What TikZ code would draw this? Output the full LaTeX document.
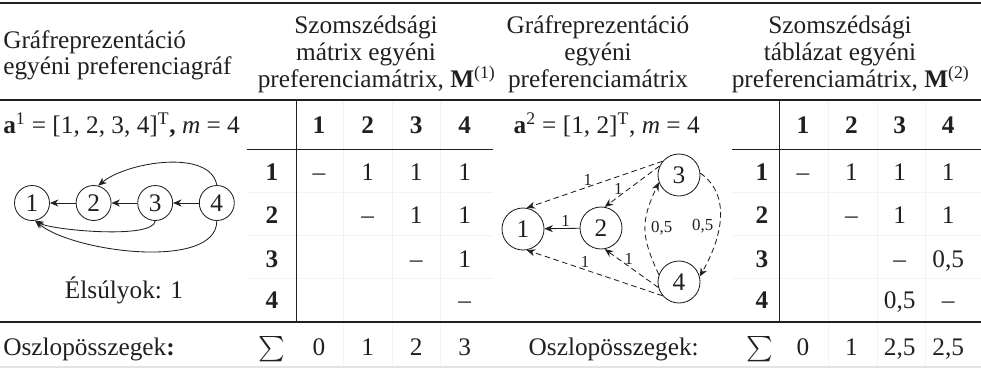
\documentclass[tikz,border=0pt]{standalone}
\usepackage{amsmath}
\usepackage{amssymb}
\usepackage{fontspec}
\usepackage{tikz}
\usepackage{xcolor}
\usetikzlibrary{arrows.meta, positioning}
\setmainfont{Liberation Serif}
\definecolor{Ink_Black}{HTML}{231F20}
\definecolor{Cell_Gray}{HTML}{F3F3F3}
\definecolor{Foot_Gray}{HTML}{E4E4E4}
\newcommand{\mainsize}{\fontsize{18}{19}\selectfont}
\newcommand{\wtsize}{\fontsize{12}{14}\selectfont}

\begin{document}
\begin{tikzpicture}[
    font=\mainsize, Ink_Black,
    every node/.style={inner sep=1pt},
    hd/.style={font=\mainsize\bfseries, anchor=base},
    cell/.style={anchor=base},
    vertex/.style={circle, draw, line width=0.6pt, minimum size=0.875cm, inner sep=0pt},
    bigvertex/.style={vertex, minimum size=1.05cm},
    wt/.style={font=\wtsize, inner sep=1pt},
    arc/.style={line width=0.6pt, -{Stealth[length=6pt, width=5pt]}},
    dasharc/.style={arc, dash pattern=on 4pt off 2.5pt}
]

    % Page is 981 x 369 px, 40 px = 1 cm
    \useasboundingbox (0,0) rectangle (24.525,9.225);

    % === Faint cell borders ===
    \draw[Cell_Gray, line width=0.5pt] (8.59,6.725) -- (8.59,0.05);
    \draw[Cell_Gray, line width=0.5pt] (9.8,6.725) -- (9.8,0.05);
    \draw[Cell_Gray, line width=0.5pt] (11.01,6.725) -- (11.01,0.05);
    \draw[Cell_Gray, line width=0.5pt] (20.7,6.725) -- (20.7,0.05);
    \draw[Cell_Gray, line width=0.5pt] (21.925,6.725) -- (21.925,0.05);
    \draw[Cell_Gray, line width=0.5pt] (23.125,6.725) -- (23.125,0.05);
    \draw[Cell_Gray, line width=0.5pt] (6.175,4.425) -- (12.325,4.425);
    \draw[Cell_Gray, line width=0.5pt] (6.175,3.35) -- (12.325,3.35);
    \draw[Cell_Gray, line width=0.5pt] (6.175,2.275) -- (12.325,2.275);
    \draw[Cell_Gray, line width=0.5pt] (18.3,4.425) -- (24.525,4.425);
    \draw[Cell_Gray, line width=0.5pt] (18.3,3.35) -- (24.525,3.35);
    \draw[Cell_Gray, line width=0.5pt] (18.3,2.275) -- (24.525,2.275);

    % === Rules ===
    \draw[line width=1.1pt] (0,9.15) -- (24.525,9.15);
    \draw[line width=1.1pt] (0,6.725) -- (24.525,6.725);
    \draw[line width=0.7pt] (6.175,5.5) -- (12.325,5.5);
    \draw[line width=0.7pt] (18.3,5.5) -- (24.525,5.5);
    \draw[line width=0.7pt] (7.4,6.725) -- (7.4,1.175);
    \draw[line width=0.7pt] (19.475,6.725) -- (19.475,1.175);
    \draw[line width=1.1pt] (0,1.175) -- (24.525,1.175);
    \draw[Foot_Gray, line width=0.8pt] (0,0.05) -- (24.525,0.05);

    % === Header row ===
    \node[align=left, anchor=west] (hGraphA) at (0.04,7.84) {Gráfreprezentáció\\egyéni preferenciagráf};
    \node[align=center] (hMatA) at (9.15,7.87) {Szomszédsági\\mátrix egyéni\\preferenciamátrix, \textbf{M}\rlap{\textsuperscript{(1)}}};
    \node[align=center] (hGraphB) at (14.95,7.87) {Gráfreprezentáció\\egyéni\\preferenciamátrix};
    \node[align=center] (hMatB) at (21.0,7.87) {Szomszédsági\\táblázat egyéni\\preferenciamátrix, \textbf{M}\rlap{\textsuperscript{(2)}}};

    % === Vectors ===
    \node[anchor=base west] (vecA) at (0.04,5.9) {\textbf{a}\textsuperscript{1} = [1, 2, 3, 4]\textsuperscript{T}\textbf{,} \textit{m} = 4};
    \node[anchor=base west] (vecB) at (12.8,5.9) {\textbf{a}\textsuperscript{2} = [1, 2]\textsuperscript{T}, \textit{m} = 4};

    % === Table A (x = 7.975, 9.19, 10.405, 11.62) ===
    \node[hd] (tAc1) at (7.975,5.9) {1};
    \node[hd] (tAc2) at (9.19,5.9) {2};
    \node[hd] (tAc3) at (10.405,5.9) {3};
    \node[hd] (tAc4) at (11.62,5.9) {4};
    \node[hd] (tAr1) at (6.8,4.725) {1};
    \node[hd] (tAr2) at (6.8,3.65) {2};
    \node[hd] (tAr3) at (6.8,2.55) {3};
    \node[hd] (tAr4) at (6.8,1.525) {4};
    \node[cell] (tA11) at (7.975,4.725) {--};
    \node[cell] (tA12) at (9.19,4.725) {1};
    \node[cell] (tA13) at (10.405,4.725) {1};
    \node[cell] (tA14) at (11.62,4.725) {1};
    \node[cell] (tA22) at (9.19,3.65) {--};
    \node[cell] (tA23) at (10.405,3.65) {1};
    \node[cell] (tA24) at (11.62,3.65) {1};
    \node[cell] (tA33) at (10.405,2.55) {--};
    \node[cell] (tA34) at (11.62,2.55) {1};
    \node[cell] (tA44) at (11.62,1.525) {--};
    \node[cell] (tAsig) at (6.8,0.35) {$\sum$};
    \node[cell] (tAs1) at (7.975,0.35) {0};
    \node[cell] (tAs2) at (9.19,0.35) {1};
    \node[cell] (tAs3) at (10.405,0.35) {2};
    \node[cell] (tAs4) at (11.62,0.35) {3};

    % === Table B (x = 20.075, 21.285, 22.495, 23.705) ===
    \node[hd] (tBc1) at (20.075,5.9) {1};
    \node[hd] (tBc2) at (21.285,5.9) {2};
    \node[hd] (tBc3) at (22.495,5.9) {3};
    \node[hd] (tBc4) at (23.705,5.9) {4};
    \node[hd] (tBr1) at (19.05,4.725) {1};
    \node[hd] (tBr2) at (19.05,3.65) {2};
    \node[hd] (tBr3) at (19.05,2.55) {3};
    \node[hd] (tBr4) at (19.05,1.525) {4};
    \node[cell] (tB11) at (20.075,4.725) {--};
    \node[cell] (tB12) at (21.285,4.725) {1};
    \node[cell] (tB13) at (22.495,4.725) {1};
    \node[cell] (tB14) at (23.705,4.725) {1};
    \node[cell] (tB22) at (21.285,3.65) {--};
    \node[cell] (tB23) at (22.495,3.65) {1};
    \node[cell] (tB24) at (23.705,3.65) {1};
    \node[cell] (tB33) at (22.495,2.55) {--};
    \node[cell] (tB34) at (23.705,2.55) {0,5};
    \node[cell] (tB43) at (22.495,1.525) {0,5};
    \node[cell] (tB44) at (23.705,1.525) {--};
    \node[cell] (tBsig) at (19.0,0.35) {$\sum$};
    \node[cell] (tBs1) at (20.075,0.35) {0};
    \node[cell] (tBs2) at (21.285,0.35) {1};
    \node[cell] (tBs3) at (22.495,0.35) {2,5};
    \node[cell] (tBs4) at (23.705,0.35) {2,5};

    % === Footer labels ===
    \node[anchor=base west] (sumA) at (0.04,0.35) {Oszlopösszegek\textbf{:}};
    \node[anchor=base west] (sumB) at (13.175,0.35) {Oszlopösszegek:};
    \node[cell] (noteA) at (3.1,1.775) {Élsúlyok: 1};

    % === Graph A: chain 4 -> 3 -> 2 -> 1 ===
    \node[vertex] (a1) at (0.8,4.15) {1};
    \node[vertex] (a2) at (2.34,4.15) {2};
    \node[vertex] (a3) at (3.88,4.15) {3};
    \node[vertex] (a4) at (5.42,4.15) {4};
    \draw[arc] (a2) -- (a1);
    \draw[arc] (a3) -- (a2);
    \draw[arc] (a4) -- (a3);
    \draw[arc] (a4.north) to[out=100, in=40, looseness=0.8] (a2.75);
    \draw[arc] (a3.south) to[out=-95, in=-30, looseness=0.4] (a1.-80);
    \draw[arc] (a4.south) to[out=-90, in=-40, looseness=0.7] (a1.-80);

    % === Graph B: weighted, dashed ties ===
    \node[bigvertex] (b1) at (13.075,3.5) {1};
    \node[bigvertex] (b2) at (15.025,3.525) {2};
    \node[bigvertex] (b3) at (16.975,4.85) {3};
    \node[bigvertex] (b4) at (16.975,2.175) {4};
    \draw[arc] (b2) -- node[wt, above, pos=0.4] (w21) {1} (b1);
    \draw[dasharc] (b3.140) -- node[wt, above, pos=0.55] (w31) {1} (b1.80);
    \draw[dasharc] (b3.155) -- node[wt, above, pos=0.75] (w32) {1} (b2.80);
    \draw[dasharc] (b4.220) -- node[wt, above, pos=0.57] (w41) {1} (b1.-80);
    \draw[dasharc] (b4.195) -- node[wt, above, pos=0.55] (w42) {1} (b2.-80);
    \draw[dasharc] (b4.160) to[out=115, in=-115, looseness=1.2] node[wt, right=3pt, pos=0.5] (w43) {0,5} (b3.200);
    \draw[dasharc] (b3.5) to[out=-35, in=60] node[wt, left=3pt, pos=0.55] (w34) {0,5} (b4.15);

\end{tikzpicture}
\end{document}
